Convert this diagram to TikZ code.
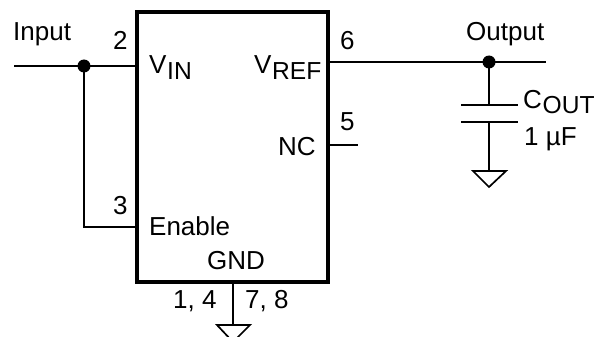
\documentclass[tikz,border=0pt]{standalone}
\usepackage{fontspec}
\setmainfont{Liberation Sans}
\begin{document}
\begin{tikzpicture}[x=1pt,y=-1pt,
  wire/.style={line width=1.7pt,line cap=butt},
  chip/.style={line width=3.4pt,line join=miter},
  dotnode/.style={circle,fill=black,inner sep=0pt,minimum size=13pt},
  lbl/.style={inner sep=0pt,font=\fontsize{26}{26}\selectfont,text=black,anchor=base west},
  sublbl/.style={lbl,font=\fontsize{24.6}{24.6}\selectfont}]
\useasboundingbox (0,0) rectangle (597,337);
\clip (0,0) rectangle (597,337);
\coordinate (boxtl) at (137,12);
\coordinate (boxbr) at (328,282);
\coordinate (inL) at (14,66);
\coordinate (vinpin) at (137,66);
\coordinate (enpin) at (137,227);
\coordinate (encorner) at (84,227);
\coordinate (vrefpin) at (328,62);
\coordinate (outR) at (546,62);
\coordinate (ncpin) at (328,145);
\coordinate (ncR) at (358,145);
\coordinate (gndpin) at (233,282);
\coordinate (gndT) at (233,325);
\coordinate (capT) at (489,105);
\coordinate (capB) at (489,122);
\coordinate (capG) at (489,171);
\node[dotnode] (ind) at (84,66) {};
\node[dotnode] (outd) at (489,62) {};
\draw[wire] (inL) -- (vinpin);
\draw[wire] (ind.center) -- (encorner) -- (enpin);
\draw[wire] (vrefpin) -- (outR);
\draw[wire] (ncpin) -- (ncR);
\draw[wire] (gndpin) -- (gndT);
\draw[wire] (outd.center) -- (capT);
\draw[wire] (capB) -- (capG);
\draw[wire] (461,105) -- (518,105);
\draw[wire] (461,122) -- (518,122);
\draw[wire,line join=miter] (473,171) -- (506,171) -- (489,187) -- cycle;
\draw[wire,line join=miter] (217,325) -- (250,325) -- (233,342) -- cycle;
\draw[chip] (boxtl) rectangle (boxbr);
\node[lbl] (input) at (13,41) {Input};
\node[lbl] (n2) at (113,49) {2};
\node[lbl] (vin) at (149,74) {V};
\node[sublbl] (vins) at (167,80) {IN};
\node[lbl] (n3) at (113,214) {3};
\node[lbl] (enable) at (149,235) {Enable};
\node[lbl] (gnd) at (207,269) {GND};
\node[lbl] (n14) at (173,308) {1, 4};
\node[lbl] (n78) at (245,308) {7, 8};
\node[lbl] (vref) at (254,74) {V};
\node[sublbl] (vrefs) at (272,80) {REF};
\node[lbl] (nc) at (278,155) {NC};
\node[lbl] (n6) at (340,49) {6};
\node[lbl] (n5) at (340,130) {5};
\node[lbl] (output) at (466,41) {Output};
\node[lbl] (cout) at (523,108) {C};
\node[sublbl] (couts) at (542.5,113) {OUT};
\node[lbl] (val) at (524,145) {1 µF};
\end{tikzpicture}
\end{document}
